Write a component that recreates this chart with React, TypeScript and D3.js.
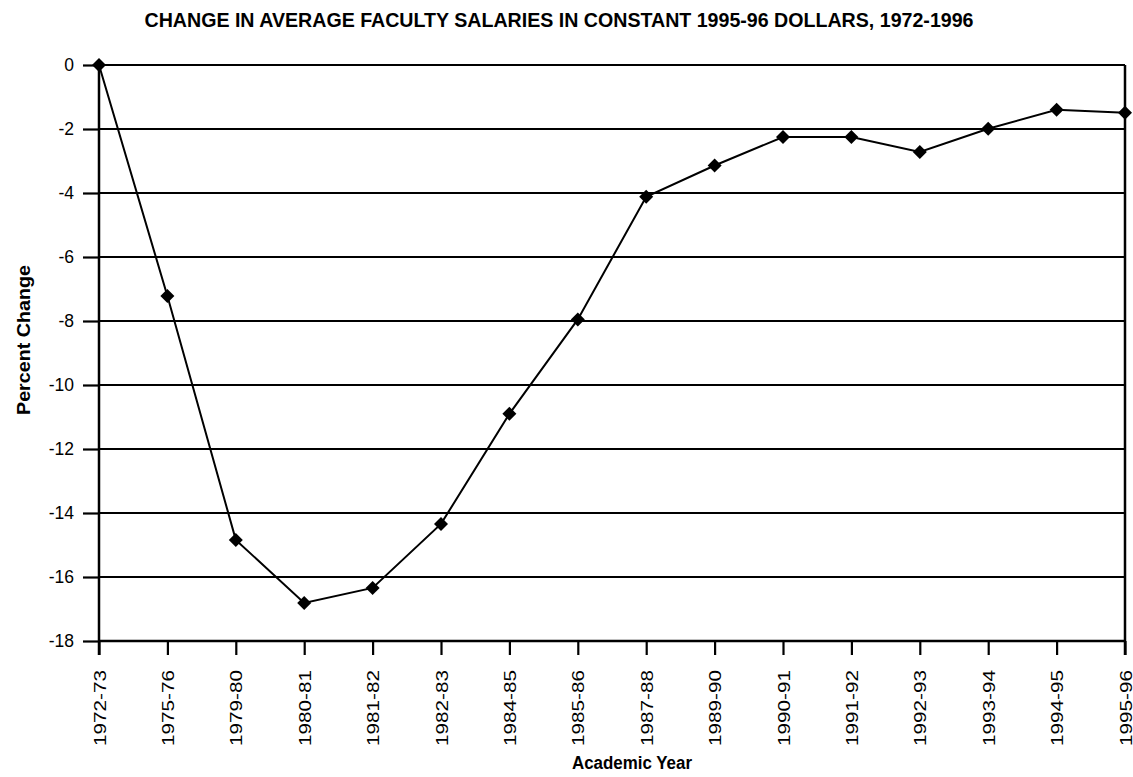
import { useEffect, useRef } from 'react';
import * as d3 from 'd3';

const YEARS = [
  '1972-73', '1975-76', '1979-80', '1980-81', '1981-82', '1982-83', '1984-85', '1985-86',
  '1987-88', '1989-90', '1990-91', '1991-92', '1992-93', '1993-94', '1994-95', '1995-96',
];
const PERCENT_CHANGE = [0, -7.22, -14.84, -16.81, -16.34, -14.34, -10.9, -7.95, -4.12, -3.14, -2.25, -2.25, -2.72, -1.99, -1.4, -1.49];
const Y_TICKS = [0, -2, -4, -6, -8, -10, -12, -14, -16, -18];

const TITLE = 'CHANGE IN AVERAGE FACULTY SALARIES IN CONSTANT 1995-96 DOLLARS, 1972-1996';

export default function App() {
  const svgRef = useRef<SVGSVGElement | null>(null);

  useEffect(() => {
    document.body.style.margin = '0';
    const svgElement = svgRef.current;
    if (!svgElement) return;

    const width = 1133;
    const height = 777;
    const margin = { top: 65, right: 8, bottom: 136, left: 99 };
    const innerWidth = width - margin.left - margin.right;
    const innerHeight = height - margin.top - margin.bottom;

    const svg = d3.select(svgElement).attr('width', width).attr('height', height);
    svg.selectAll('*').remove();

    const sans = 'Liberation Sans, Arial, Helvetica, sans-serif';

    svg
      .append('text')
      .attr('x', 559)
      .attr('y', 27)
      .attr('text-anchor', 'middle')
      .attr('font-family', '"Liberation Sans Narrow", "Liberation Sans", sans-serif')
      .attr('font-weight', 'bold')
      .attr('font-size', 20)
      .attr('textLength', 829)
      .attr('lengthAdjust', 'spacingAndGlyphs')
      .text(TITLE);

    const root = svg.append('g').attr('transform', `translate(${margin.left},${margin.top})`);

    const x = d3.scalePoint<string>().domain(YEARS).range([0, innerWidth]).padding(0);
    const y = d3.scaleLinear().domain([-18, 0]).range([innerHeight, 0]);

    // horizontal grid lines
    root
      .selectAll('line.grid')
      .data(Y_TICKS)
      .join('line')
      .attr('class', 'grid')
      .attr('x1', 0)
      .attr('x2', innerWidth)
      .attr('y1', (d) => y(d))
      .attr('y2', (d) => y(d))
      .attr('stroke', '#000')
      .attr('stroke-width', 2.2);

    const yAxis = d3
      .axisLeft(y)
      .tickValues(Y_TICKS)
      .tickSize(16)
      .tickPadding(9)
      .tickFormat((v) => `${v}`);
    const yAxisGroup = root.append('g').call(yAxis);
    yAxisGroup.select('.domain').remove();
    yAxisGroup.selectAll('line').attr('stroke', '#000').attr('stroke-width', 2.2);
    yAxisGroup.selectAll('text').attr('font-family', sans).attr('font-size', 17.5).attr('fill', '#000');

    const xAxis = d3.axisBottom(x).tickSize(14).tickPadding(0);
    const xAxisGroup = root.append('g').attr('transform', `translate(0,${innerHeight})`).call(xAxis);
    xAxisGroup.select('.domain').remove();
    xAxisGroup.selectAll('line').attr('stroke', '#000').attr('stroke-width', 2.2);
    xAxisGroup
      .selectAll('text')
      .attr('font-family', sans)
      .attr('font-size', 17)
      .attr('fill', '#000')
      .attr('text-anchor', 'end')
      .attr('x', 0)
      .attr('y', 0)
      .attr('dy', null)
      .attr('textLength', 76)
      .attr('lengthAdjust', 'spacingAndGlyphs')
      .attr('transform', 'translate(6,29) rotate(-90)');

    // axis frame: left, bottom, right
    root.append('line').attr('x1', 0).attr('x2', 0).attr('y1', 0).attr('y2', innerHeight + 14).attr('stroke', '#000').attr('stroke-width', 2.5);
    root.append('line').attr('x1', 0).attr('x2', innerWidth).attr('y1', innerHeight).attr('y2', innerHeight).attr('stroke', '#000').attr('stroke-width', 2.5);
    root.append('line').attr('x1', innerWidth).attr('x2', innerWidth).attr('y1', 0).attr('y2', innerHeight + 14).attr('stroke', '#000').attr('stroke-width', 2.5);

    const points = YEARS.map((year, i) => ({ year, value: PERCENT_CHANGE[i] }));
    const line = d3
      .line<{ year: string; value: number }>()
      .x((d) => x(d.year) ?? 0)
      .y((d) => y(d.value));

    root.append('path').datum(points).attr('d', line).attr('fill', 'none').attr('stroke', '#000').attr('stroke-width', 2);

    const diamond = d3.symbol().type(d3.symbolDiamond2).size(125);
    root
      .selectAll('path.marker')
      .data(points)
      .join('path')
      .attr('class', 'marker')
      .attr('d', diamond)
      .attr('transform', (d) => `translate(${x(d.year)},${y(d.value)})`)
      .attr('fill', '#000');

    svg
      .append('text')
      .attr('x', 632)
      .attr('y', 769)
      .attr('text-anchor', 'middle')
      .attr('font-family', sans)
      .attr('font-weight', 'bold')
      .attr('font-size', 18)
      .attr('textLength', 120)
      .attr('lengthAdjust', 'spacingAndGlyphs')
      .text('Academic Year');

    svg
      .append('text')
      .attr('transform', 'translate(30,340) rotate(-90)')
      .attr('text-anchor', 'middle')
      .attr('font-family', sans)
      .attr('font-weight', 'bold')
      .attr('font-size', 18)
      .attr('textLength', 150)
      .attr('lengthAdjust', 'spacingAndGlyphs')
      .text('Percent Change');
  }, []);

  return <svg ref={svgRef} style={{ display: 'block' }} />;
}
